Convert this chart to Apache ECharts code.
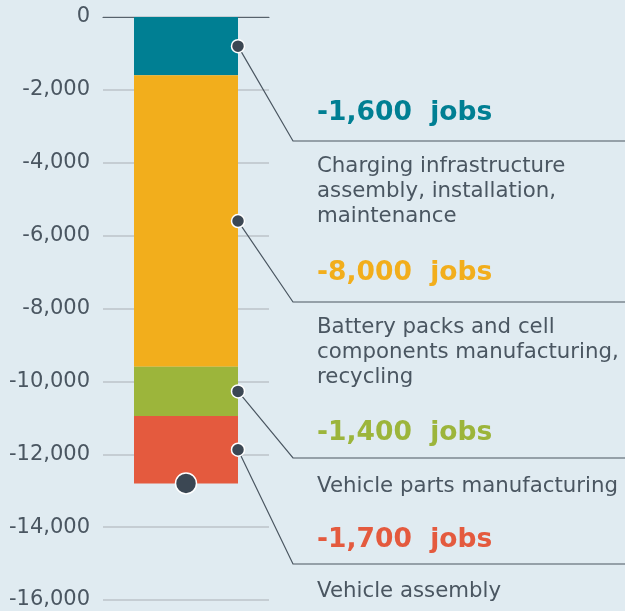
<!DOCTYPE html>
<html><head><meta charset="utf-8">
<script src="https://cdn.jsdelivr.net/npm/echarts@6/dist/echarts.min.js"></script>
<style>html,body{margin:0;padding:0;background:#e0ebf1;}#c{width:625px;height:611px;}</style>
</head><body><div id="c"></div>
<script>
// ---- data ----
const categories = ['Jobs'];
const segmentNames = ['Charging infrastructure', 'Battery packs', 'Vehicle parts', 'Vehicle assembly'];
const segmentValues = [-1600, -8000, -1350, -1850];
const segmentColors = ['#007f93', '#f2ae1c', '#9cb53b', '#e45a3e'];
const headlineLabels = ['-1,600  jobs', '-8,000  jobs', '-1,400  jobs', '-1,700  jobs'];
const descLabels = [
  ['Charging infrastructure', 'assembly, installation,', 'maintenance'],
  ['Battery packs and cell', 'components manufacturing,', 'recycling'],
  ['Vehicle parts manufacturing'],
  ['Vehicle assembly']
];
const yTicks = [0, -2000, -4000, -6000, -8000, -10000, -12000, -14000, -16000];

// ---- layout ----
const bendY = [141, 302, 458, 564];
const bendX = 293;
const textX = 317;
const font = 'DejaVu Sans';

const chart = echarts.init(document.getElementById('c'));
const series = segmentValues.map((v, i) => ({
  name: segmentNames[i], type: 'bar', stack: 'total', barWidth: 104,
  data: [v], itemStyle: { color: segmentColors[i] }, z: 2
}));
let cum = 0;
const mids = segmentValues.map(v => { const m = cum + v / 2; cum += v; return m; });
const total = cum;
series.push({
  type: 'scatter', z: 10, symbolSize: 13, symbolOffset: [52, 0],
  itemStyle: { color: '#3b4753', borderColor: '#fff', borderWidth: 1.5, opacity: 1 },
  data: mids.map(m => [0, m])
});
series.push({
  type: 'scatter', z: 10, symbolSize: 21,
  itemStyle: { color: '#3b4753', borderColor: '#fff', borderWidth: 1.5, opacity: 1 },
  data: [[0, total]]
});

chart.setOption({
  backgroundColor: '#e0ebf1',
  animation: false,
  grid: { left: 103, width: 166, top: 17, bottom: 11 },
  xAxis: {
    type: 'category', data: categories, position: 'top',
    axisLine: { show: true, lineStyle: { color: '#56626c', width: 1.2 } },
    axisTick: { show: false }, axisLabel: { show: false }
  },
  yAxis: {
    type: 'value', min: -16000, max: 0, interval: 2000,
    axisLine: { show: false }, axisTick: { show: false },
    splitLine: { lineStyle: { color: '#bcc3c8', width: 1.5 } },
    axisLabel: {
      margin: 13, color: '#4a5661', fontSize: 21, fontFamily: font, fontWeight: 'normal',
      formatter: v => v === 0 ? '0' : '-' + Math.abs(v).toLocaleString('en-US')
    }
  },
  series: series
});

const headOffset = [-28, -29, -25, -24];
const descOffset = [25, 25, 28, 27];
const g = [];
mids.forEach((m, i) => {
  const p = chart.convertToPixel({ gridIndex: 0 }, [0, m]);
  const x0 = p[0] + 52, y0 = p[1];
  g.push({ type: 'polyline', z: 5, shape: { points: [[x0, y0], [bendX, bendY[i]], [625, bendY[i]]] },
    style: { stroke: '#4a5661', lineWidth: 1.2, fill: null } });
  g.push({ type: 'text', z: 5, x: textX, y: bendY[i] + headOffset[i],
    style: { text: headlineLabels[i], fill: segmentColors[i], font: 'bold 26.5px "' + font + '"', textVerticalAlign: 'middle' } });
  descLabels[i].forEach((line, j) => {
    g.push({ type: 'text', z: 5, x: textX, y: bendY[i] + descOffset[i] + j * 25,
      style: { text: line, fill: '#4a5661', font: '21.3px "' + font + '"', textVerticalAlign: 'middle' } });
  });
});
chart.setOption({ graphic: g });
</script></body></html>
